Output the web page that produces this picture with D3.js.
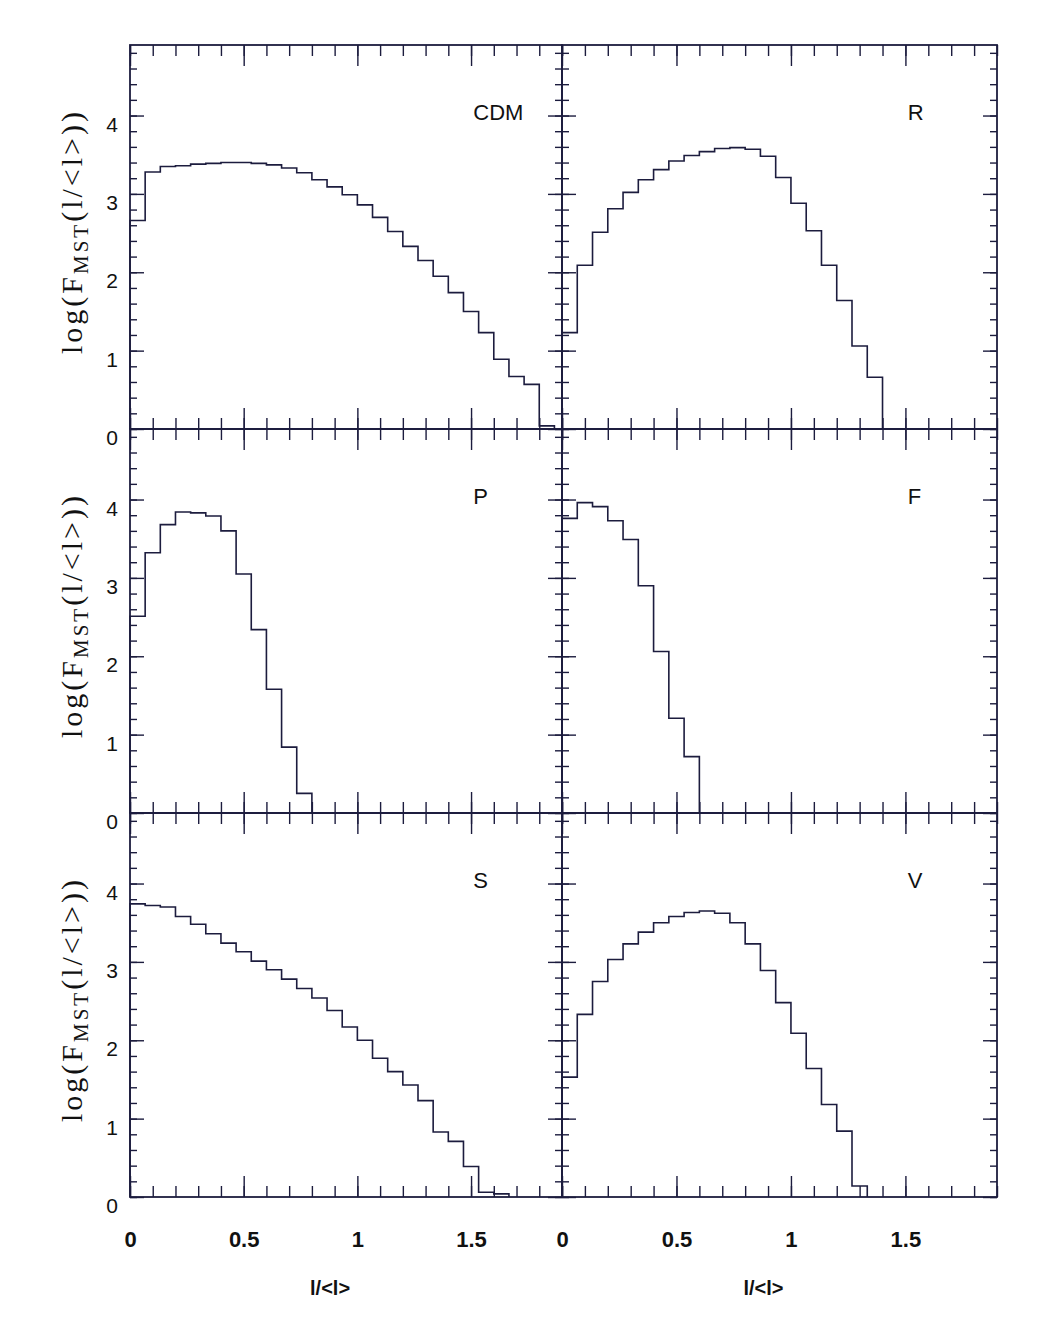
<!DOCTYPE html>
<html><head><meta charset="utf-8">
<script src="https://cdn.jsdelivr.net/npm/d3@7"></script>
<style>body{margin:0;background:#fff}</style>
</head><body>
<svg id="c" width="1051" height="1335"></svg>
<script>
// ---------------- data ----------------
const panelNames = ["CDM", "R", "P", "F", "S", "V"];
const binWidth = 1 / 15;
const cdmValues = [2.66,3.28,3.35,3.36,3.38,3.39,3.40,3.40,3.39,3.37,3.33,3.27,3.18,3.09,2.99,2.86,2.70,2.52,2.33,2.15,1.95,1.74,1.50,1.23,0.89,0.67,0.57,0.04];
const rValues   = [1.23,2.09,2.51,2.81,3.02,3.18,3.31,3.42,3.49,3.54,3.58,3.59,3.57,3.48,3.21,2.88,2.53,2.09,1.64,1.06,0.66];
const pValues   = [2.51,3.32,3.68,3.84,3.83,3.79,3.60,3.05,2.34,1.58,0.84,0.25];
const fValues   = [3.76,3.96,3.91,3.73,3.49,2.90,2.06,1.21,0.72];
const sValues   = [3.74,3.72,3.70,3.58,3.48,3.36,3.24,3.13,3.01,2.90,2.78,2.66,2.54,2.38,2.17,2.00,1.77,1.60,1.43,1.23,0.83,0.71,0.39,0.06,0.04];
const vValues   = [1.53,2.33,2.75,3.03,3.23,3.38,3.50,3.58,3.63,3.65,3.62,3.50,3.23,2.89,2.48,2.09,1.64,1.18,0.84,0.14];
const xTickValues = [0, 0.5, 1, 1.5];
const xTickLabels = ["0", "0.5", "1", "1.5"];
const yTickValues = [0, 1, 2, 3, 4];
const yTickLabels = ["0", "1", "2", "3", "4"];
const xDomain = [0, 1.9];
const yDomain = [0, 4.9];
const xMinorStep = 0.1;
const yMinorStep = 0.2;
const xTitle = "l/<l>";

// ---------------- layout ----------------
const series = [cdmValues, rValues, pValues, fValues, sValues, vValues];
const svg = d3.select("#c");
const ink = "#1c1c3e";
const cols = [[130, 562], [562, 997]];
const rowTop = [45, 429, 813];
const H = 384;

const xMinor = d3.range(0, 20).map(i => +(i * xMinorStep).toFixed(2));
const yMinor = d3.range(0, 25).map(i => +(i * yMinorStep).toFixed(2));

function addTicks(g, axisGen, transform, values, size) {
  g.append("g").attr("transform", transform)
    .call(axisGen.tickValues(values).tickSize(size).tickSizeOuter(0).tickFormat(""))
    .call(s => s.select(".domain").remove())
    .selectAll("line").attr("stroke", ink).attr("stroke-width", 1.4);
}

series.forEach((vals, k) => {
  const c = k % 2, r = Math.floor(k / 2);
  const x = d3.scaleLinear(xDomain, cols[c]);
  const y = d3.scaleLinear(yDomain, [rowTop[r] + H, rowTop[r]]);
  const g = svg.append("g");

  // histogram step line
  const pts = [[0, 0]];
  vals.forEach((v, i) => { pts.push([i * binWidth, v]); pts.push([(i + 1) * binWidth, v]); });
  pts.push([vals.length * binWidth, 0]);
  g.append("path")
    .attr("d", d3.line().x(d => x(d[0])).y(d => y(d[1]))(pts))
    .attr("fill", "none").attr("stroke", ink).attr("stroke-width", 1.6);

  // ticks (inward on all four sides)
  addTicks(g, d3.axisBottom(x), `translate(0,${y(yDomain[1])})`, xMinor, 11);
  addTicks(g, d3.axisBottom(x), `translate(0,${y(yDomain[1])})`, xTickValues, 21);
  addTicks(g, d3.axisTop(x), `translate(0,${y(0)})`, xMinor, 11);
  addTicks(g, d3.axisTop(x), `translate(0,${y(0)})`, xTickValues, 21);
  addTicks(g, d3.axisRight(y), `translate(${x(0)},0)`, yMinor, 7);
  addTicks(g, d3.axisRight(y), `translate(${x(0)},0)`, yTickValues, 14);
  addTicks(g, d3.axisLeft(y), `translate(${x(xDomain[1])},0)`, yMinor, 7);
  addTicks(g, d3.axisLeft(y), `translate(${x(xDomain[1])},0)`, yTickValues, 14);

  // frame
  g.append("rect")
    .attr("x", x(0)).attr("y", y(yDomain[1]))
    .attr("width", x(xDomain[1]) - x(0)).attr("height", y(0) - y(yDomain[1]))
    .attr("fill", "none").attr("stroke", ink).attr("stroke-width", 1.8);

  // panel label
  g.append("text")
    .attr("x", x(1.51)).attr("y", y(yDomain[1]) + 75)
    .attr("font-family", "Liberation Sans, Arial, sans-serif")
    .attr("font-size", 22).attr("fill", "#111")
    .text(panelNames[k]);

  // y tick labels + y title on left column
  if (c === 0) {
    g.append("g").attr("transform", `translate(${x(0)},9)`)
      .call(d3.axisLeft(y).tickValues(yTickValues).tickSize(0).tickPadding(12)
        .tickFormat((d, i) => yTickLabels[i]))
      .call(s => s.select(".domain").remove())
      .selectAll("text")
      .attr("font-family", "Liberation Sans, Arial, sans-serif")
      .attr("font-size", 21).attr("fill", "#111");

    const cy = rowTop[r] + H / 2 - 4;
    const t = g.append("text")
      .attr("transform", `translate(82,${cy}) rotate(-90)`)
      .attr("text-anchor", "middle")
      .attr("font-family", "Liberation Serif, Times New Roman, serif")
      .attr("font-size", 30).attr("fill", "#111")
      .attr("textLength", 242).attr("lengthAdjust", "spacing");
    t.append("tspan").text("log(F");
    t.append("tspan").attr("font-size", 21).attr("dy", 6).text("MST");
    t.append("tspan").attr("dy", -6).text("(l/<l>))");
  }

  // x tick labels + title on bottom row
  if (r === 2) {
    g.append("g").attr("transform", `translate(0,${y(0)})`)
      .call(d3.axisBottom(x).tickValues(xTickValues).tickSize(0).tickPadding(34)
        .tickFormat((d, i) => xTickLabels[i]))
      .call(s => s.select(".domain").remove())
      .selectAll("text")
      .attr("font-family", "Liberation Sans, Arial, sans-serif")
      .attr("font-weight", "bold")
      .attr("font-size", 22).attr("fill", "#111");

    g.append("text")
      .attr("x", x(0.88)).attr("y", y(0) + 98)
      .attr("text-anchor", "middle")
      .attr("font-family", "Liberation Sans, Arial, sans-serif")
      .attr("font-weight", "bold")
      .attr("font-size", 20).attr("fill", "#111")
      .text(xTitle);
  }
});
</script>
</body></html>
